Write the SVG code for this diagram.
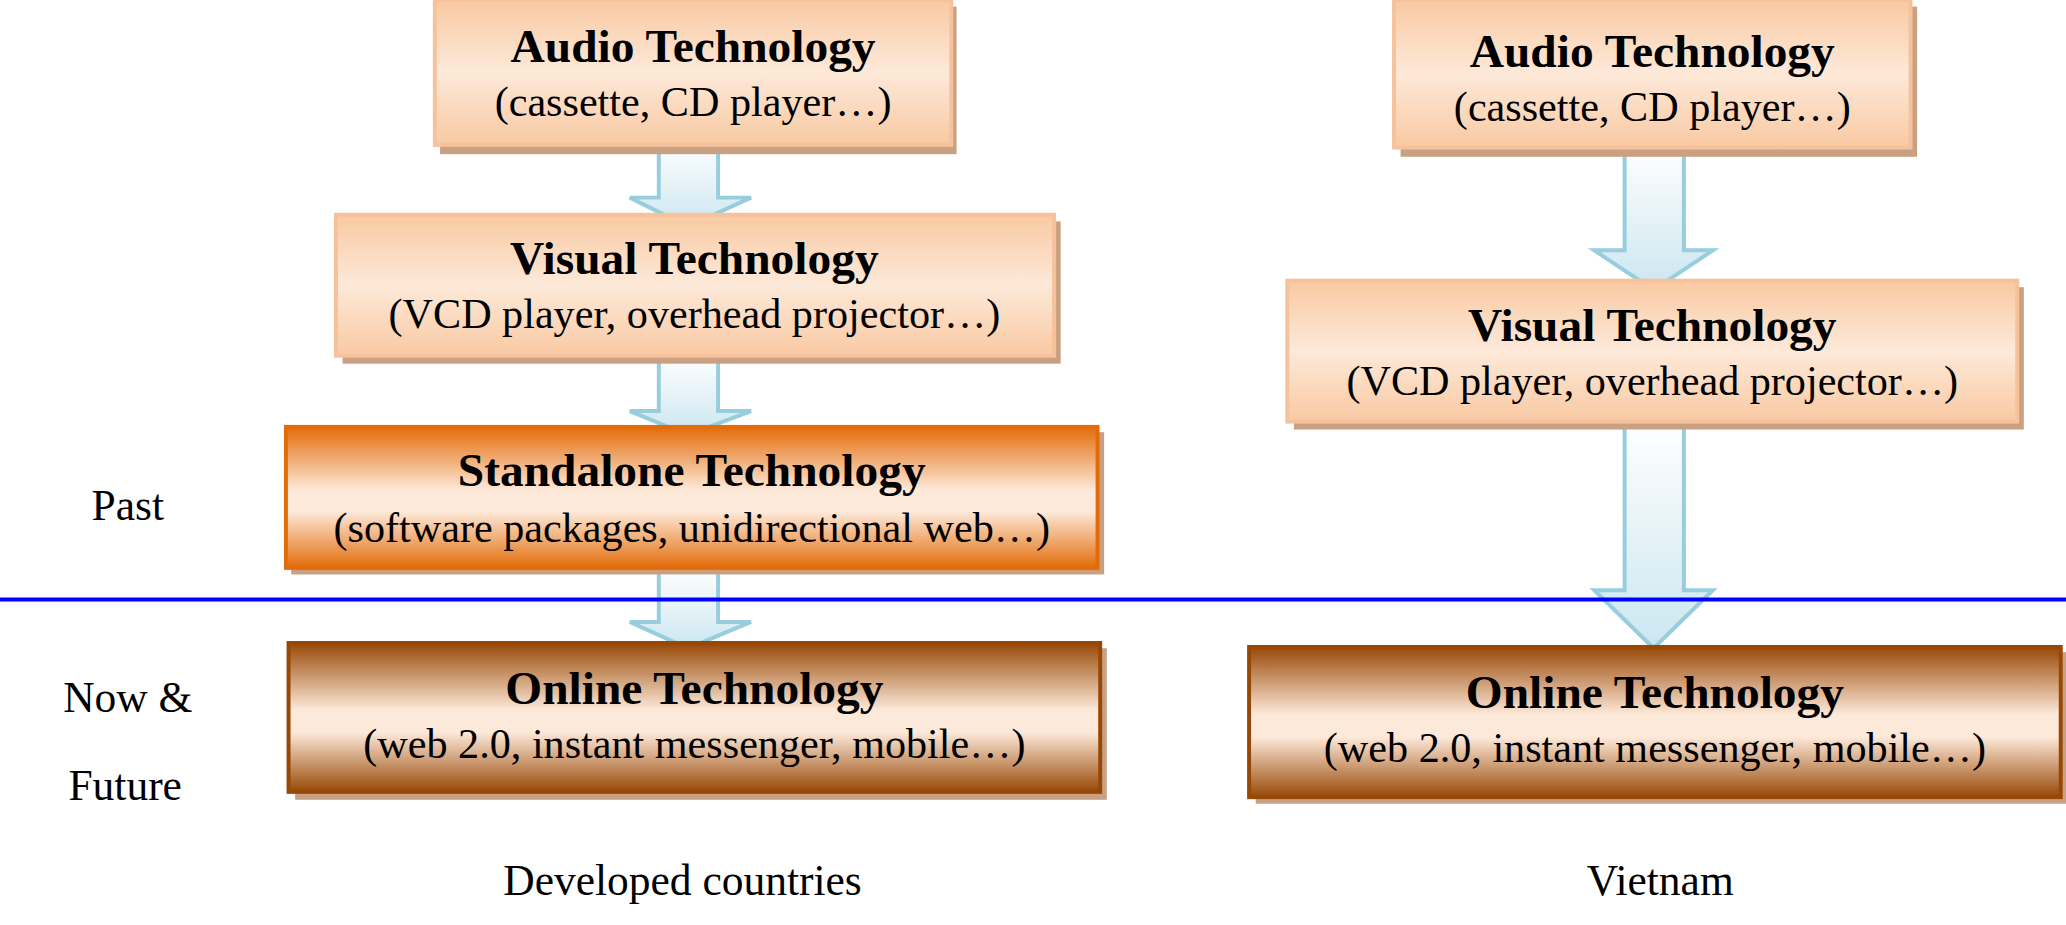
<svg xmlns="http://www.w3.org/2000/svg" width="2066" height="925" viewBox="0 0 2066 925">
<defs>
<linearGradient id="gL" x1="0" y1="0" x2="0" y2="1"><stop offset="0" stop-color="#f9c9a2"/><stop offset="0.5" stop-color="#fde9d9"/><stop offset="1" stop-color="#f9c9a2"/></linearGradient>
<linearGradient id="gO" x1="0" y1="0" x2="0" y2="1"><stop offset="0" stop-color="#e36c0a"/><stop offset="0.45" stop-color="#fde9d9"/><stop offset="0.6" stop-color="#fde9d9"/><stop offset="1" stop-color="#e36c0a"/></linearGradient>
<linearGradient id="gB" x1="0" y1="0" x2="0" y2="1"><stop offset="0" stop-color="#984806"/><stop offset="0.45" stop-color="#fde9d9"/><stop offset="0.6" stop-color="#fde9d9"/><stop offset="1" stop-color="#984806"/></linearGradient>
<linearGradient id="gA" x1="0" y1="0" x2="0" y2="1"><stop offset="0" stop-color="#ffffff"/><stop offset="1" stop-color="#c6e4ef"/></linearGradient>
</defs>
<style>
.sh{fill:#c9a182}
.l{fill:url(#gL);stroke:#f6c29b;stroke-width:3}
.o{fill:url(#gO);stroke:#e36c0a;stroke-width:3}
.b{fill:url(#gB);stroke:#984806;stroke-width:3}
.t{font-family:"Liberation Serif",serif;font-weight:bold;font-size:36px;text-anchor:middle}
.s{font-family:"Liberation Serif",serif;font-size:32px;text-anchor:middle}
.lab{font-family:"Liberation Serif",serif;font-size:33px;text-anchor:middle}
.ar{fill:url(#gA);stroke:#8cc8da;stroke-width:3;opacity:0.9}
</style>
<g transform="scale(1.3176)">
<g id="connectors">
<path class="ar" d="M500,108 H545 V150 H570 L522,172 L478,150 H500 Z"/>
<path class="ar" d="M500,270 H545 V312 H570 L522,330 L478,312 H500 Z"/>
<path class="ar" d="M500,432 H545 V472 H570 L522,492 L478,472 H500 Z"/>
<path class="ar" d="M1233,112 H1278 V190 H1300 L1255,220 L1210,190 H1233 Z"/>
<path class="ar" d="M1233,322 H1278 V448 H1300 L1255,492 L1210,448 H1233 Z"/>
</g>
<line x1="0" y1="455" x2="1568" y2="455" stroke="#0000ff" stroke-width="3"/>
<g id="n1"><rect class="sh" x="334" y="5" width="392" height="112"/><rect class="l" x="330" y="0" width="392" height="110"/>
<text class="t" x="526" y="47">Audio Technology</text><text class="s" x="526" y="88">(cassette, CD player…)</text></g>
<g id="n2"><rect class="sh" x="260" y="168" width="545" height="108"/><rect class="l" x="255" y="163" width="545" height="107"/>
<text class="t" x="527" y="208">Visual Technology</text><text class="s" x="527" y="249">(VCD player, overhead projector…)</text></g>
<g id="n3"><rect class="sh" x="221" y="328" width="617" height="108"/><rect class="o" x="217" y="324" width="616" height="107"/>
<text class="t" x="525" y="369">Standalone Technology</text><text class="s" x="525" y="411">(software packages, unidirectional web…)</text></g>
<g id="n4"><rect class="sh" x="224" y="492" width="616" height="115"/><rect class="b" x="219" y="488" width="616" height="113"/>
<text class="t" x="527" y="534">Online Technology</text><text class="s" x="527" y="575">(web 2.0, instant messenger, mobile…)</text></g>
<g id="n5"><rect class="sh" x="1063" y="5" width="392" height="114"/><rect class="l" x="1058" y="0" width="392" height="112"/>
<text class="t" x="1254" y="51">Audio Technology</text><text class="s" x="1254" y="92">(cassette, CD player…)</text></g>
<g id="n6"><rect class="sh" x="982" y="218" width="554" height="108"/><rect class="l" x="977" y="213" width="554" height="107"/>
<text class="t" x="1254" y="259">Visual Technology</text><text class="s" x="1254" y="300">(VCD player, overhead projector…)</text></g>
<g id="n7"><rect class="sh" x="953" y="495" width="616" height="115"/><rect class="b" x="948" y="491" width="616" height="114"/>
<text class="t" x="1256" y="537">Online Technology</text><text class="s" x="1256" y="578">(web 2.0, instant messenger, mobile…)</text></g>
<text class="lab" x="97" y="395">Past</text>
<text class="lab" x="97" y="540">Now &amp;</text>
<text class="lab" x="95" y="607">Future</text>
<text class="lab" x="518" y="679">Developed countries</text>
<text class="lab" x="1260" y="679">Vietnam</text>
</g>
</svg>
